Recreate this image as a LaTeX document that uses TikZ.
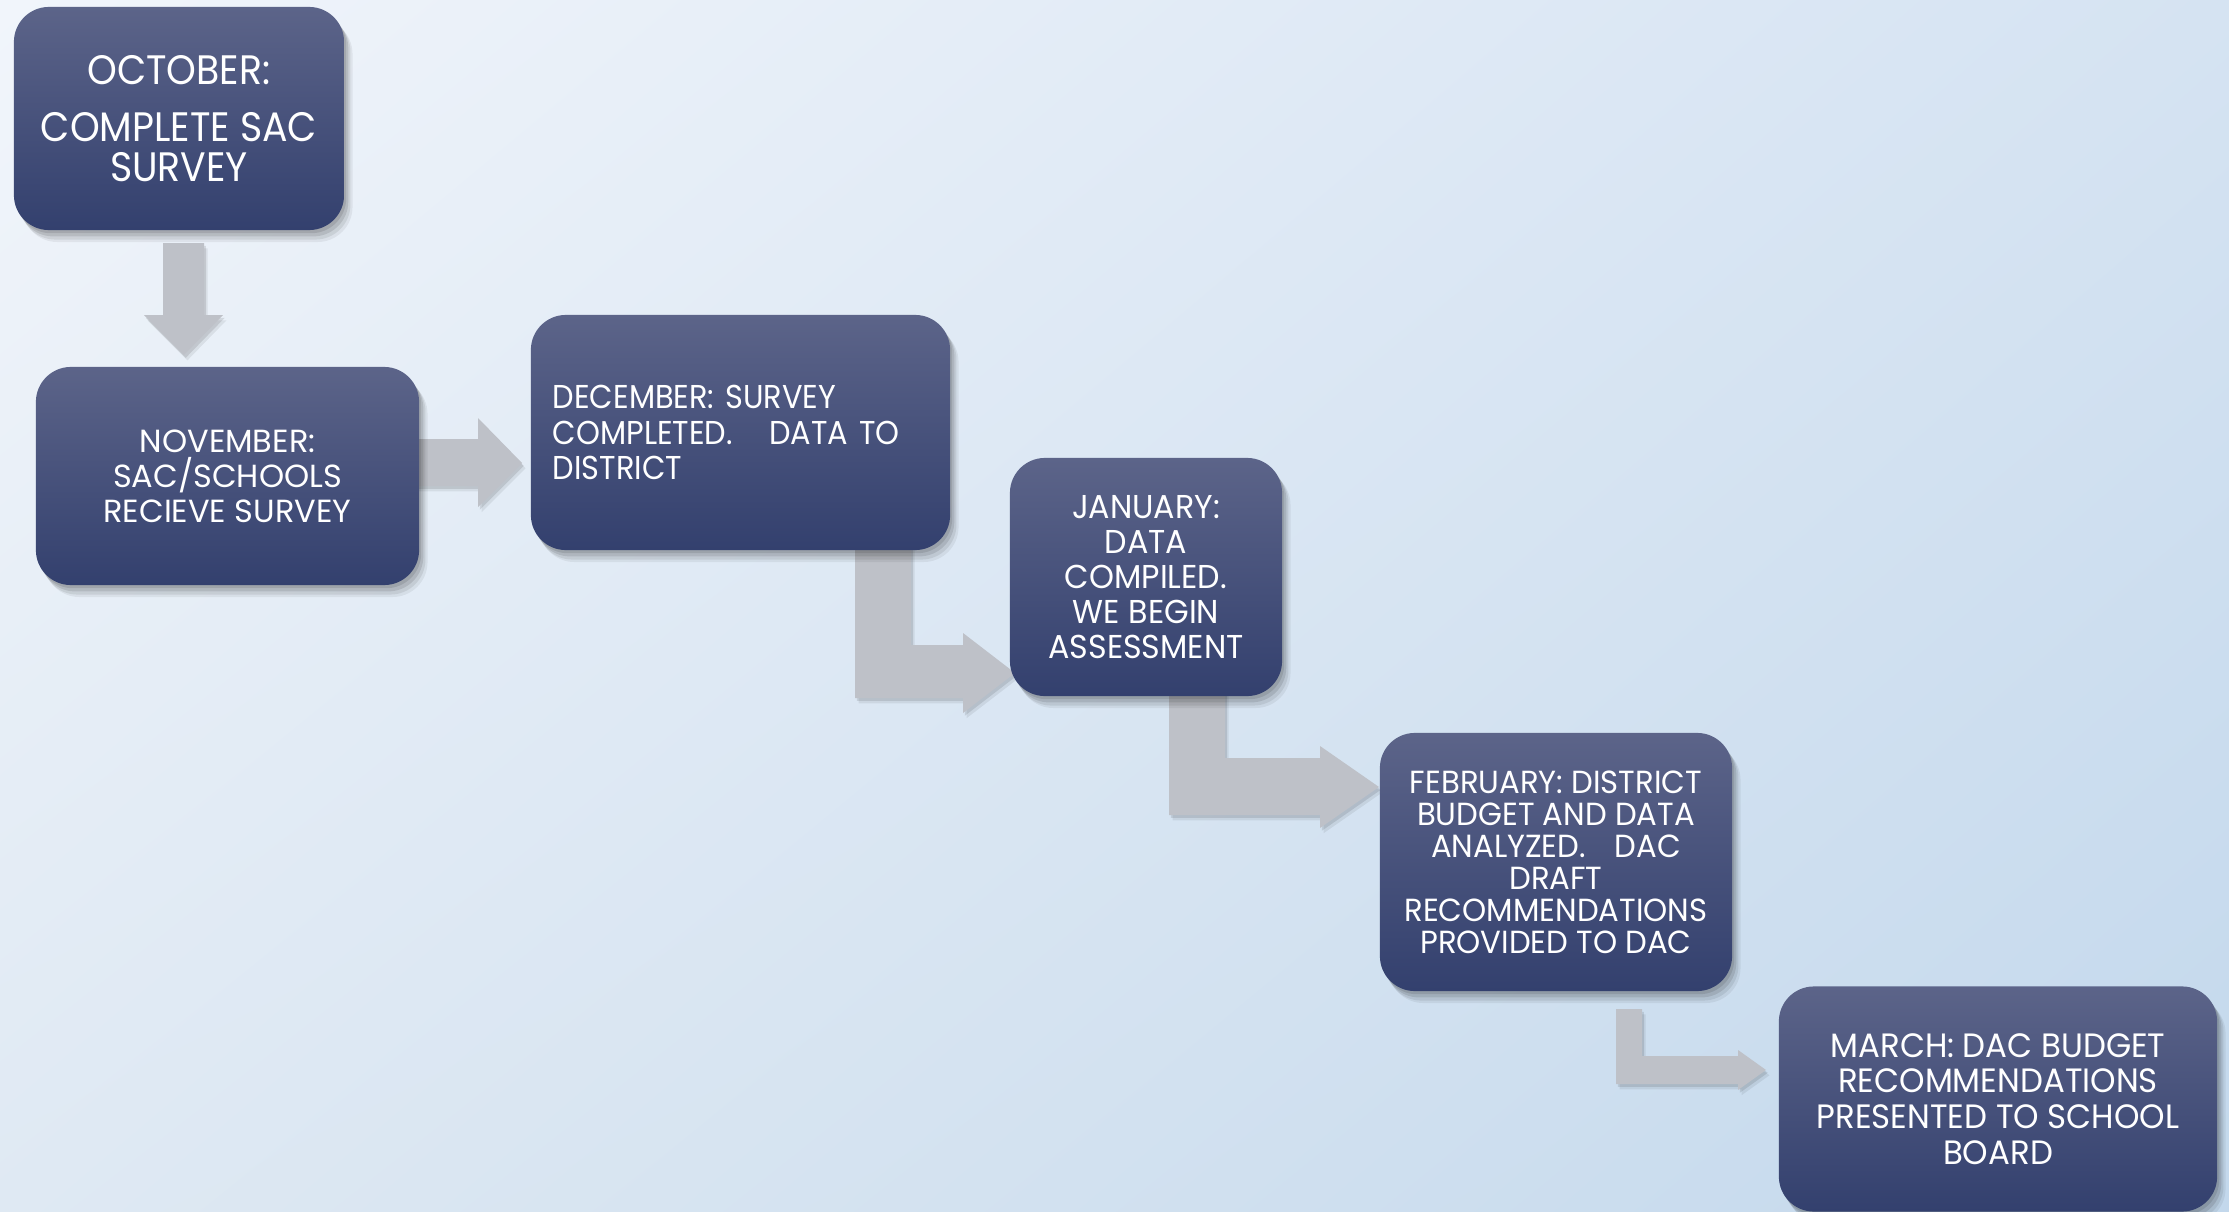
\documentclass[tikz,border=0pt]{standalone}
\usepackage{fontspec}
\setmainfont{Poppins}
\newfontfamily\octfont{Poppins}[FakeStretch=0.92]
\newfontfamily\novfont{Poppins}[FakeStretch=1.0]
\newfontfamily\condA{Poppins}[FakeStretch=0.96]
\newfontfamily\condB{Poppins}[FakeStretch=0.92]
\usetikzlibrary{shadows,calc,shadings}
\definecolor{boxtop}{RGB}{92,100,137}
\definecolor{boxbot}{RGB}{51,64,110}
\definecolor{arrowgray}{RGB}{190,193,200}
\definecolor{bgul}{RGB}{241,245,251}
\definecolor{bgur}{RGB}{213,227,242}
\definecolor{bgll}{RGB}{223,233,243}
\definecolor{bglr}{RGB}{195,216,236}
\begin{document}
\begin{tikzpicture}[x=0.01cm,y=-0.01cm,
  softshadow/.style={
    drop shadow={shadow xshift=0.6pt, shadow yshift=-0.9pt, opacity=0.10, fill=black},
    drop shadow={shadow xshift=1.2pt, shadow yshift=-1.8pt, opacity=0.10, fill=black},
    drop shadow={shadow xshift=1.8pt, shadow yshift=-2.7pt, opacity=0.08, fill=black},
    drop shadow={shadow xshift=2.4pt, shadow yshift=-3.4pt, opacity=0.06, fill=black}},
  arrowshadow/.style={
    drop shadow={shadow xshift=0.5pt, shadow yshift=-0.8pt, opacity=0.10, fill=black},
    drop shadow={shadow xshift=1.0pt, shadow yshift=-1.5pt, opacity=0.07, fill=black}},
  box/.style={rounded corners=0.35cm, top color=boxtop, bottom color=boxbot,
    text=white, inner sep=0pt, align=center, softshadow},
  blockarrow/.style={fill=arrowgray, arrowshadow}]
% background
\shade[upper left=bgul, upper right=bgur, lower left=bgll, lower right=bglr]
  (0,0) rectangle (2229,1212);
\useasboundingbox (0,0) rectangle (2229,1212);

% block arrows (drawn first, under the boxes)
\fill[blockarrow] (163,243) -- (204,243) -- (204,315) -- (223,315) -- (184,355) -- (144,315) -- (163,315) -- cycle;
\fill[blockarrow] (410,439) -- (478,439) -- (478,418) -- (522,463) -- (478,507) -- (478,486) -- (410,486) -- cycle;
\fill[blockarrow] (855,540) -- (911,540) -- (911,645) -- (963,645) -- (963,633) -- (1015,673) -- (963,713) -- (963,698) -- (855,698) -- cycle;
\fill[blockarrow] (1169,690) -- (1225,690) -- (1225,758) -- (1320,758) -- (1320,746) -- (1379,787) -- (1320,828) -- (1320,815) -- (1169,815) -- cycle;
\fill[blockarrow] (1616,1009) -- (1642,1009) -- (1642,1056) -- (1738,1056) -- (1738,1050) -- (1766,1070) -- (1738,1090) -- (1738,1084) -- (1616,1084) -- cycle;

% boxes
\node[box, minimum width=3.30cm, minimum height=2.23cm,
  font={\octfont\fontsize{11.7pt}{11.4pt}\selectfont}] (oct) at (179,118.5)
  {OCTOBER:\\[5pt] COMPLETE SAC\\ SURVEY};
\node[box, minimum width=3.83cm, minimum height=2.18cm,
  font={\novfont\fontsize{9.1pt}{10pt}\selectfont}] (nov) at (227.5,476)
  {NOVEMBER:\\ SAC/SCHOOLS\\ RECIEVE SURVEY};
\node[box, minimum width=4.19cm, minimum height=2.35cm, align=left, text width=3.75cm,
  font={\condB\fontsize{9.4pt}{10pt}\selectfont}] (dec) at (740.5,432.5)
  {DECEMBER: SURVEY\\ COMPLETED.\hspace{1.1em}DATA TO\\ DISTRICT};
\node[box, minimum width=2.72cm, minimum height=2.38cm,
  font={\condA\fontsize{9.4pt}{10pt}\selectfont}] (jan) at (1146,577)
  {JANUARY:\\ DATA\\ COMPILED.\\ WE BEGIN\\ ASSESSMENT};
\node[box, minimum width=3.52cm, minimum height=2.58cm,
  font={\condA\fontsize{9.1pt}{9.1pt}\selectfont}] (feb) at (1556,862)
  {FEBRUARY: DISTRICT\\ BUDGET AND DATA\\ ANALYZED.\hspace{0.9em}DAC\\ DRAFT\\ RECOMMENDATIONS\\ PROVIDED TO DAC};
\node[box, minimum width=4.38cm, minimum height=2.25cm,
  font={\condA\fontsize{9.6pt}{10.2pt}\selectfont}] (mar) at (1998,1099)
  {MARCH: DAC BUDGET\\ RECOMMENDATIONS\\ PRESENTED TO SCHOOL\\ BOARD};
\end{tikzpicture}
\end{document}
